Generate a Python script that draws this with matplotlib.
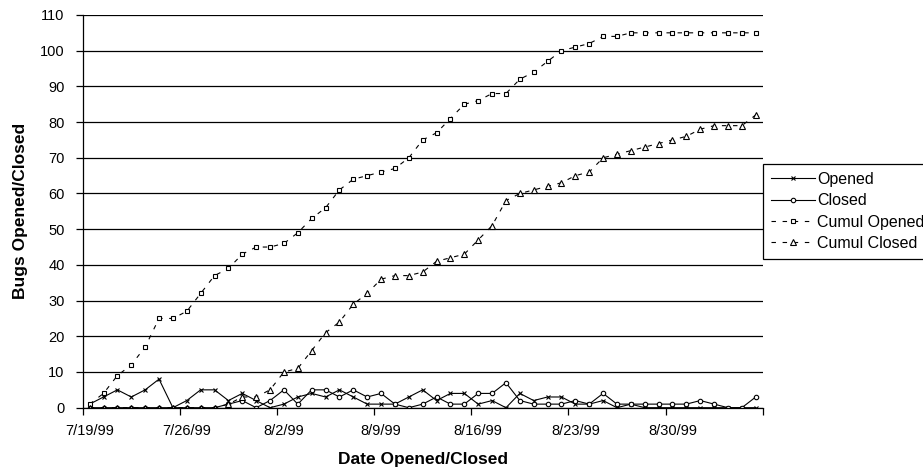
import numpy as np
import pandas as pd
import matplotlib
matplotlib.use("Agg")
import matplotlib.pyplot as plt
import matplotlib.dates as mdates
from matplotlib.ticker import FixedLocator, FuncFormatter, MultipleLocator

plt.rcParams["font.family"] = ["Liberation Sans", "DejaVu Sans"]

# ── Daily bug counts, 7/19/99 – 9/5/99 ────────────────────
dates = pd.date_range("1999-07-19", "1999-09-05", freq="D")

opened = [1, 3, 5, 3, 5, 8, 0, 2, 5, 5,
          2, 4, 2, 0, 1, 3, 4, 3, 5, 3,
          1, 1, 1, 3, 5, 2, 4, 4, 1, 2,
          0, 4, 2, 3, 3, 1, 1, 2, 0, 1,
          0, 0, 0, 0, 0, 0, 0, 0, 0]
closed = [0, 0, 0, 0, 0, 0, 0, 0, 0, 0,
          1, 2, 0, 2, 5, 1, 5, 5, 3, 5,
          3, 4, 1, 0, 1, 3, 1, 1, 4, 4,
          7, 2, 1, 1, 1, 2, 1, 4, 1, 1,
          1, 1, 1, 1, 2, 1, 0, 0, 3]
cumul_opened = [1, 4, 9, 12, 17, 25, 25, 27, 32, 37,
                39, 43, 45, 45, 46, 49, 53, 56, 61, 64,
                65, 66, 67, 70, 75, 77, 81, 85, 86, 88,
                88, 92, 94, 97, 100, 101, 102, 104, 104, 105,
                105, 105, 105, 105, 105, 105, 105, 105, 105]
cumul_closed = [0, 0, 0, 0, 0, 0, 0, 0, 0, 0,
                1, 3, 3, 5, 10, 11, 16, 21, 24, 29,
                32, 36, 37, 37, 38, 41, 42, 43, 47, 51,
                58, 60, 61, 62, 63, 65, 66, 70, 71, 72,
                73, 74, 75, 76, 78, 79, 79, 79, 82]

# points sit in the middle of each day
x = mdates.date2num(dates) + 0.5

fig = plt.figure(figsize=(9.23, 4.71), dpi=100)
ax = fig.add_axes([0.0896, 0.1344, 0.7367, 0.8338])

ax.plot(x, opened, color="black", lw=0.8, marker="x", ms=3.2, mew=0.8,
        label="Opened")
ax.plot(x, closed, color="black", lw=0.8, marker="o", ms=3.2, mew=0.8,
        mfc="white", label="Closed")
ax.plot(x, cumul_opened, color="black", lw=0.8, ls=(0, (4, 6)), marker="s",
        ms=3.5, mew=0.8, mfc="white", label="Cumul Opened")
ax.plot(x, cumul_closed, color="black", lw=0.8, ls=(0, (4, 6)), marker="^",
        ms=4.2, mew=0.8, mfc="white", label="Cumul Closed")

# axes
start = mdates.date2num(dates[0])
ax.set_xlim(start, start + len(dates))
ax.set_ylim(0, 110)
ax.yaxis.set_major_locator(MultipleLocator(10))
ax.grid(axis="y", color="black", lw=0.9)
ax.set_axisbelow(True)

week_edges = start + np.arange(0, len(dates) + 1, 7)
ax.xaxis.set_major_locator(FixedLocator(week_edges))
ax.xaxis.set_major_formatter(FuncFormatter(lambda v, p: ""))
ax.xaxis.set_minor_locator(FixedLocator(week_edges[:-1] + 0.5))
ax.xaxis.set_minor_formatter(FuncFormatter(
    lambda v, p: "{d.month}/{d.day}/{d:%y}".format(d=mdates.num2date(v))))

ax.tick_params(axis="x", which="major", direction="out", length=5, width=0.9)
ax.tick_params(axis="x", which="minor", length=0, pad=12, labelsize=10.5)
ax.tick_params(axis="y", direction="out", length=5, width=0.9, pad=8,
               labelsize=10.5)

for side in ("top", "right"):
    ax.spines[side].set_visible(False)
for side in ("left", "bottom"):
    ax.spines[side].set_linewidth(0.9)

ax.set_xlabel("Date Opened/Closed", fontsize=12.5, fontweight="bold",
              labelpad=10)
ax.set_ylabel("Bugs Opened/Closed", fontsize=12.5, fontweight="bold",
              labelpad=9)

leg = fig.legend(loc="upper left", bbox_to_anchor=(0.8267, 0.652),
                 borderaxespad=0, fancybox=False, edgecolor="black",
                 fontsize=11.5, handlelength=2.75, handletextpad=0.15,
                 labelspacing=0.4, borderpad=0.5, framealpha=1)
leg.get_frame().set_linewidth(0.9)

fig.savefig("out.png", dpi=100)
